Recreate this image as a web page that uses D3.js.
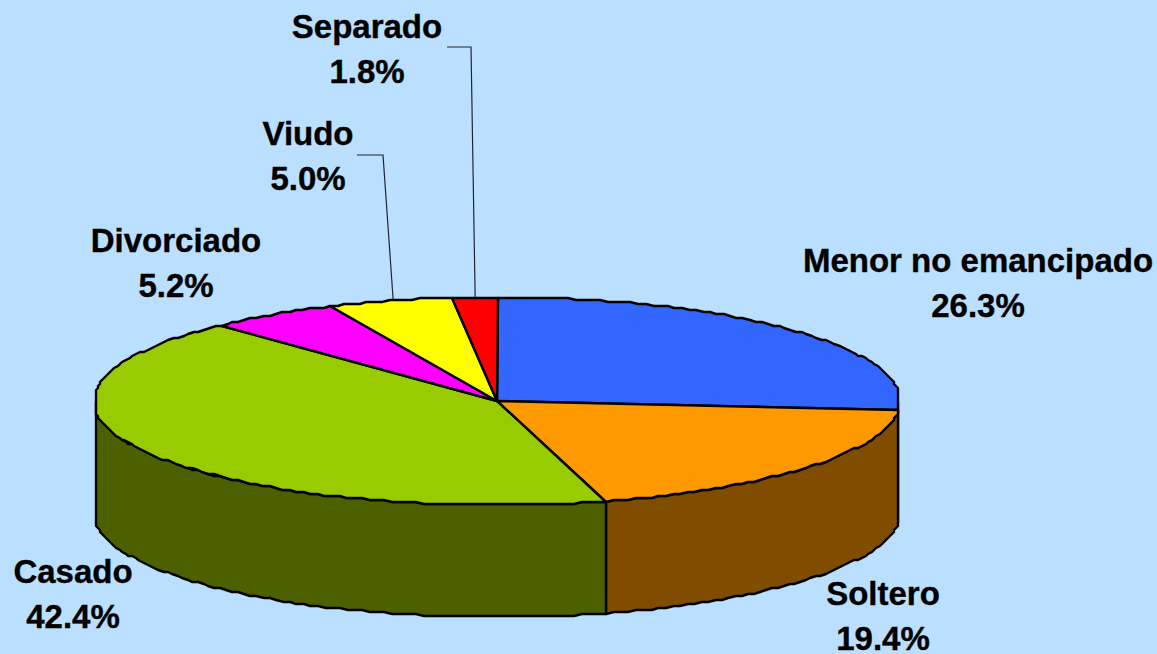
<!DOCTYPE html>
<html>
<head>
<meta charset="utf-8">
<script src="https://cdn.jsdelivr.net/npm/d3@7"></script>
<style>
    html, body { margin: 0; padding: 0; background: #bbe0ff; }
    svg { display: block; }
    text { font-family: "Liberation Sans", Arial, sans-serif; font-weight: bold; font-size: 33px; fill: #000; text-anchor: middle; }
</style>
</head>
<body>
<svg id="chart"></svg>
<script>
// values, clockwise from 12 o'clock
const categories = ["Menor no emancipado", "Soltero", "Casado", "Divorciado", "Viudo", "Separado"];
const shares = [26.3, 19.4, 42.4, 5.2, 5.0, 1.8];
const topColors = ["#3366ff", "#ff9900", "#99cc00", "#ff00ff", "#ffff00", "#ff0000"];
const sideColors = ["#1a3380", "#804d00", "#4d6000", "#800080", "#808000", "#800000"];

const width = 1157, height = 654;
const cx = 497, cy = 401, rx = 403, ry = 104, depth = 112;
const xMin = 96, xMax = 898, snap = 2;

// first baseline of each two line label
const labelPos = [
    { x: 978, y: 272 }, { x: 883, y: 605 }, { x: 73, y: 583 },
    { x: 176, y: 252 }, { x: 308, y: 145 }, { x: 367, y: 38 }
];
// leader lines only on the two small slices
const leaders = { Viudo: { x0: 357, y0: 155, x1: 383, frac: 0.53 }, Separado: { x0: 447, y0: 47, x1: 471, frac: 0.52 } };

const svg = d3.select("#chart").attr("width", width).attr("height", height);

const slices = d3.pie().sort(null).value(d => d.v)(shares.map((v, i) => ({ v, i })));

const px = a => cx + rx * Math.sin(a);
const py = a => cy - ry * Math.cos(a);

// rim point, snapped a bit because the original outline is stepped and has flat sides
const rim = a => [
    Math.max(xMin, Math.min(xMax, Math.round(px(a) / snap) * snap)),
    Math.round(py(a) / snap) * snap
];
const rimAngles = (a0, a1) => {
    const n = Math.max(2, Math.ceil((a1 - a0) / 0.02));
    return d3.range(n + 1).map(k => a0 + (a1 - a0) * k / n);
};

const line = d3.line();

// walls: only the front half of the rim shows (3 to 9 o'clock)
const wallFrom = Math.PI / 2, wallTo = Math.PI * 1.5;
const walls = svg.append("g");
slices.forEach(s => {
    const a0 = Math.max(s.startAngle, wallFrom), a1 = Math.min(s.endAngle, wallTo);
    if (a1 <= a0) return;
    const upper = rimAngles(a0, a1).map(rim);
    const lower = upper.slice().reverse().map(p => [p[0], p[1] + depth]);
    walls.append("path")
        .attr("d", line(upper.concat(lower)) + "Z")
        .attr("fill", sideColors[s.data.i])
        .attr("stroke", "#000")
        .attr("stroke-width", 2.4)
        .attr("stroke-linejoin", "round");
});

// top face
svg.append("g")
    .selectAll("path")
    .data(slices)
    .join("path")
    .attr("d", s => line([[cx, cy]].concat(rimAngles(s.startAngle, s.endAngle).map(rim))) + "Z")
    .attr("fill", s => topColors[s.data.i])
    .attr("stroke", "#000")
    .attr("stroke-width", 2.4)
    .attr("stroke-linejoin", "round");

// leaders
slices.forEach(s => {
    const l = leaders[categories[s.data.i]];
    if (!l) return;
    const a = s.startAngle + (s.endAngle - s.startAngle) * l.frac;
    svg.append("path")
        .attr("d", line([[l.x0, l.y0], [l.x1, l.y0], [px(a), py(a)]]))
        .attr("fill", "none")
        .attr("stroke", "#223")
        .attr("stroke-width", 1.2);
});

// labels
categories.forEach((name, i) => {
    const t = svg.append("text").attr("x", labelPos[i].x).attr("y", labelPos[i].y)
        .attr("stroke", "#000").attr("stroke-width", 0.4);
    t.append("tspan").attr("x", labelPos[i].x).text(name);
    t.append("tspan").attr("x", labelPos[i].x).attr("dy", 45).text(d3.format(".1f")(shares[i]) + "%");
});
</script>
</body>
</html>
